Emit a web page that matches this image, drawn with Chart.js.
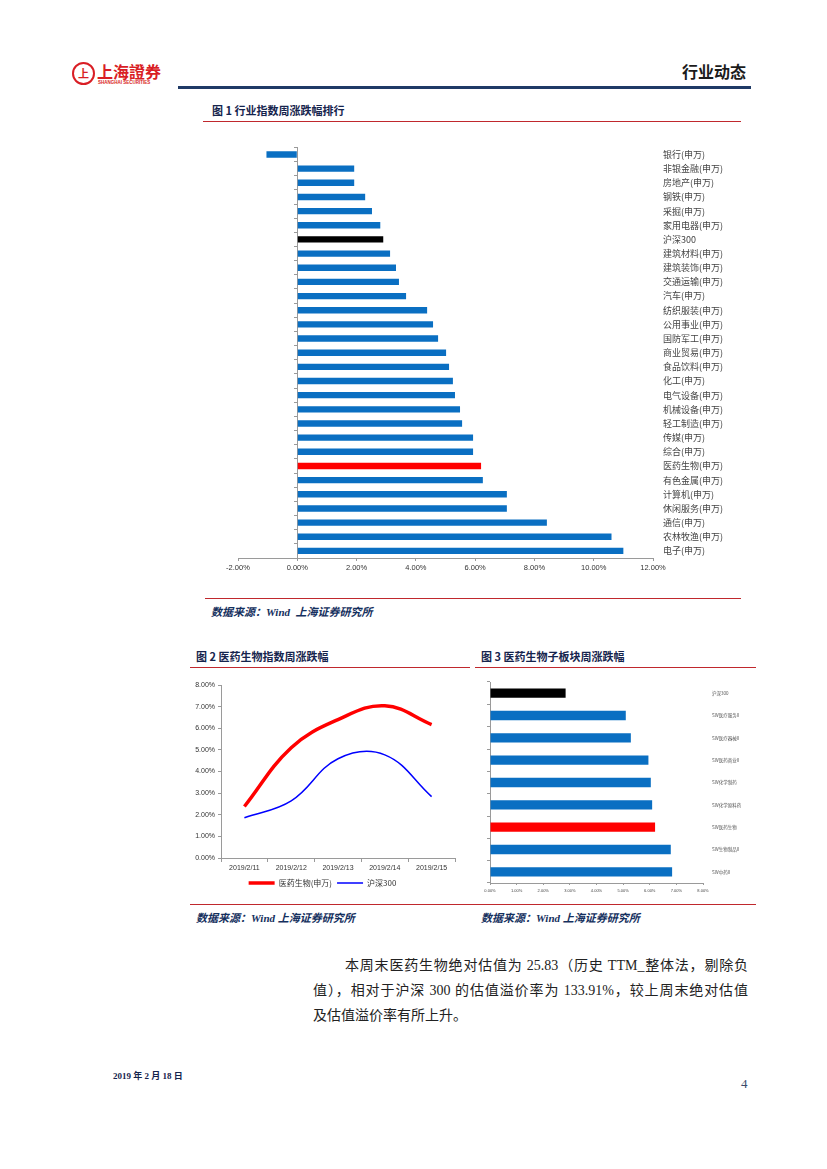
<!DOCTYPE html>
<html>
<head>
<meta charset="utf-8">
<script src="https://cdn.jsdelivr.net/npm/chart.js@4.4.1/dist/chart.umd.min.js"></script>
<style>
  body { margin:0; width:827px; height:1169px; position:relative; background:#fff; font-family:"Noto Sans CJK SC", sans-serif; overflow:hidden; }
  .abs { position:absolute; white-space:nowrap; }
  .title { font-size:11px; font-weight:700; color:#15244d; }
  .src { font-size:11px; font-weight:700; font-style:italic; color:#15305e; font-family:"Liberation Serif","Noto Sans CJK SC",serif; }
  .redline { position:absolute; height:1px; background:#c0282d; }
  .para { font-size:14px; color:#222; font-family:"Liberation Serif","Noto Sans CJK SC",serif; text-align:justify; text-align-last:justify; }
  canvas { position:absolute; }
</style>
</head>
<body>

<!-- 页眉 -->
<div class="abs" style="left:72px;top:62px;width:19px;height:19px;border:2px solid #d91e25;border-radius:50%;color:#d91e25;font-size:11px;font-weight:700;text-align:center;line-height:19px;">上</div>
<div class="abs" style="left:97px;top:59px;font-size:16px;font-weight:700;color:#d91e25;">上海證券</div>
<div class="abs" style="left:98px;top:80px;font-size:4.5px;font-weight:700;color:#d91e25;font-family:'Liberation Sans';">SHANGHAI SECURITIES</div>
<div class="abs" style="left:682px;top:59px;font-size:16px;font-weight:700;color:#1b1b1b;">行业动态</div>
<div class="abs" style="left:178px;top:86px;width:573px;height:3px;background:#1f3a66;"></div>

<!-- 图 1 -->
<div class="abs title" style="left:212px;top:102px;">图 1 行业指数周涨跌幅排行</div>
<div class="redline" style="left:203px;top:121px;width:538px;"></div>
<canvas id="chart1" width="560" height="440" style="left:200px;top:140px;"></canvas>
<div class="redline" style="left:205px;top:598px;width:536px;"></div>
<div class="abs src" style="left:211px;top:603px;">数据来源：Wind&nbsp; 上海证券研究所</div>

<!-- 图 2 / 图 3 -->
<div class="abs title" style="left:196px;top:648px;">图 2 医药生物指数周涨跌幅</div>
<div class="redline" style="left:190px;top:667px;width:280px;"></div>
<div class="abs title" style="left:481px;top:648px;">图 3 医药生物子板块周涨跌幅</div>
<div class="redline" style="left:475px;top:667px;width:281px;"></div>
<canvas id="chart2" width="280" height="222" style="left:190px;top:675px;"></canvas>
<canvas id="chart3" width="280" height="225" style="left:480px;top:675px;"></canvas>
<div class="redline" style="left:190px;top:904px;width:566px;"></div>
<div class="abs src" style="left:196px;top:909px;">数据来源：Wind 上海证券研究所</div>
<div class="abs src" style="left:481px;top:909px;">数据来源：Wind 上海证券研究所</div>

<!-- 正文 -->
<div class="abs para" style="left:345px;top:954px;width:403px;">本周末医药生物绝对估值为 25.83（历史 TTM_整体法，剔除负</div>
<div class="abs para" style="left:313px;top:979px;width:435px;">值），相对于沪深 300 的估值溢价率为 133.91%，较上周末绝对估值</div>
<div class="abs" style="left:313px;top:1004px;font-size:14px;color:#222;font-family:'Liberation Serif','Noto Sans CJK SC',serif;">及估值溢价率有所上升。</div>

<!-- 页脚 -->
<div class="abs" style="left:113px;top:1069px;font-size:9px;font-weight:700;color:#15244d;font-family:'Liberation Serif','Noto Sans CJK SC',serif;">2019 年 2 月 18 日</div>
<div class="abs" style="left:741px;top:1076px;font-size:13px;color:#3b4a6b;font-family:'Liberation Serif',serif;">4</div>

<script>
// 图1：行业指数周涨跌幅（%）
const industryLabels = ['银行(申万)', '非银金融(申万)', '房地产(申万)', '钢铁(申万)', '采掘(申万)', '家用电器(申万)', '沪深300',
  '建筑材料(申万)', '建筑装饰(申万)', '交通运输(申万)', '汽车(申万)', '纺织服装(申万)', '公用事业(申万)', '国防军工(申万)',
  '商业贸易(申万)', '食品饮料(申万)', '化工(申万)', '电气设备(申万)', '机械设备(申万)', '轻工制造(申万)', '传媒(申万)',
  '综合(申万)', '医药生物(申万)', '有色金属(申万)', '计算机(申万)', '休闲服务(申万)', '通信(申万)', '农林牧渔(申万)', '电子(申万)'];
const industryValues = [-1.04, 1.92, 1.92, 2.29, 2.52, 2.80, 2.90, 3.13, 3.33, 3.43, 3.67, 4.38, 4.58, 4.75, 5.02, 5.12,
  5.25, 5.32, 5.49, 5.56, 5.93, 5.93, 6.20, 6.26, 7.07, 7.07, 8.42, 10.60, 11.00];
const industryTicks = [-2, 0, 2, 4, 6, 8, 10, 12];

// 图2：医药生物 vs 沪深300 周内累计涨跌幅（%）
const dateLabels = ['2019/2/11', '2019/2/12', '2019/2/13', '2019/2/14', '2019/2/15'];
const pharmaValues = [2.38, 5.10, 6.40, 7.04, 6.17];
const hs300Values = [1.86, 2.64, 4.59, 4.77, 2.84];

// 图3：医药生物子板块周涨跌幅（%）
const subLabels = ['沪深300', 'SW医疗服务II', 'SW医疗器械II', 'SW医药商业II', 'SW化学制药', 'SW化学原料药', 'SW医药生物', 'SW生物制品II', 'SW中药II'];
const subValues = [2.84, 5.10, 5.29, 5.95, 6.04, 6.09, 6.20, 6.79, 6.84];

const BLUE = '#0a6fc2';
const AXIS = '#9a9a9a';
const pct = v => Number(v).toFixed(2) + '%';
const barColor = l => l === '沪深300' ? '#000000' : (l.indexOf('医药生物') >= 0 ? '#ff0000' : BLUE);

Chart.defaults.font.family = '"Liberation Sans", "Noto Sans CJK SC", sans-serif';
Chart.defaults.color = '#333';

new Chart(document.getElementById('chart1'), {
  type: 'bar',
  data: {
    labels: industryLabels,
    datasets: [{ data: industryValues, backgroundColor: industryLabels.map(barColor), barPercentage: 0.45, categoryPercentage: 1 }]
  },
  options: {
    indexAxis: 'y', responsive: false, animation: false,
    layout: { padding: { left: 38, top: 0, right: 0, bottom: 0 } },
    plugins: { legend: { display: false }, tooltip: { enabled: false } },
    scales: {
      x: {
        type: 'linear', min: -2, max: 12, position: 'bottom',
        afterBuildTicks: s => { s.ticks = industryTicks.map(v => ({ value: v })); },
        ticks: { callback: pct, font: { size: 7.5 }, color: '#333', padding: 2 },
        grid: { drawOnChartArea: false, tickLength: 3, color: AXIS },
        border: { color: AXIS },
        afterFit: s => { s.height = 22; }
      },
      y: {
        type: 'category', position: { x: 0 }, offset: true,
        ticks: { display: false },
        grid: { drawOnChartArea: false, offset: true, tickLength: 3, color: AXIS },
        border: { color: AXIS }
      },
      y2: {
        type: 'category', position: 'right', offset: true, labels: industryLabels,
        ticks: { font: { size: 9, family: '"Noto Sans CJK SC"' }, color: '#444', padding: 2 },
        grid: { display: false }, border: { display: false },
        afterFit: s => { s.width = 107; }
      }
    }
  }
});

new Chart(document.getElementById('chart2'), {
  type: 'line',
  data: {
    labels: dateLabels,
    datasets: [
      { label: '医药生物(申万)', data: pharmaValues, borderColor: '#ff0000', backgroundColor: '#ff0000', borderWidth: 3.5, tension: 0.4, pointRadius: 0 },
      { label: '沪深300', data: hs300Values, borderColor: '#0000ff', backgroundColor: '#0000ff', borderWidth: 1.5, tension: 0.4, pointRadius: 0 }
    ]
  },
  options: {
    responsive: false, animation: false,
    layout: { padding: { left: 0, top: 10, right: 15, bottom: 0 } },
    plugins: {
      tooltip: { enabled: false },
      legend: {
        position: 'bottom',
        labels: { usePointStyle: true, pointStyle: 'line', pointStyleWidth: 26, font: { size: 8, family: '"Noto Sans CJK SC"' }, color: '#333', padding: 5 }
      }
    },
    scales: {
      x: {
        offset: true,
        ticks: { font: { size: 7 }, color: '#333', padding: 2, maxRotation: 0 },
        grid: { drawOnChartArea: false, offset: true, tickLength: 4, color: AXIS },
        border: { color: AXIS },
        afterFit: s => { s.height = 16; }
      },
      y: {
        min: 0, max: 8,
        ticks: { stepSize: 1, callback: pct, font: { size: 7 }, color: '#333', padding: 3 },
        grid: { drawOnChartArea: false, tickLength: 3, color: AXIS },
        border: { color: AXIS },
        afterFit: s => { s.width = 31; }
      }
    }
  }
});

new Chart(document.getElementById('chart3'), {
  type: 'bar',
  data: {
    labels: subLabels,
    datasets: [{ data: subValues, backgroundColor: subLabels.map(barColor), barPercentage: 0.42, categoryPercentage: 1 }]
  },
  options: {
    indexAxis: 'y', responsive: false, animation: false,
    layout: { padding: { left: 0, top: 7, right: 0, bottom: 0 } },
    plugins: { legend: { display: false }, tooltip: { enabled: false } },
    scales: {
      x: {
        min: 0, max: 8,
        ticks: { stepSize: 1, callback: pct, font: { size: 4 }, color: '#444', padding: 3 },
        grid: { drawOnChartArea: false, tickLength: 2, color: AXIS },
        border: { color: AXIS },
        afterFit: s => { s.height = 17; }
      },
      y: {
        offset: true,
        ticks: { display: false },
        grid: { drawOnChartArea: false, offset: true, tickLength: 3, color: AXIS },
        border: { color: AXIS },
        afterFit: s => { s.width = 10; }
      },
      y2: {
        type: 'category', position: 'right', offset: true, labels: subLabels,
        ticks: { font: { size: 4.5, family: '"Noto Sans CJK SC"' }, color: '#555', padding: 1 },
        grid: { display: false }, border: { display: false },
        afterFit: s => { s.width = 57; }
      }
    }
  }
});
</script>
</body>
</html>
